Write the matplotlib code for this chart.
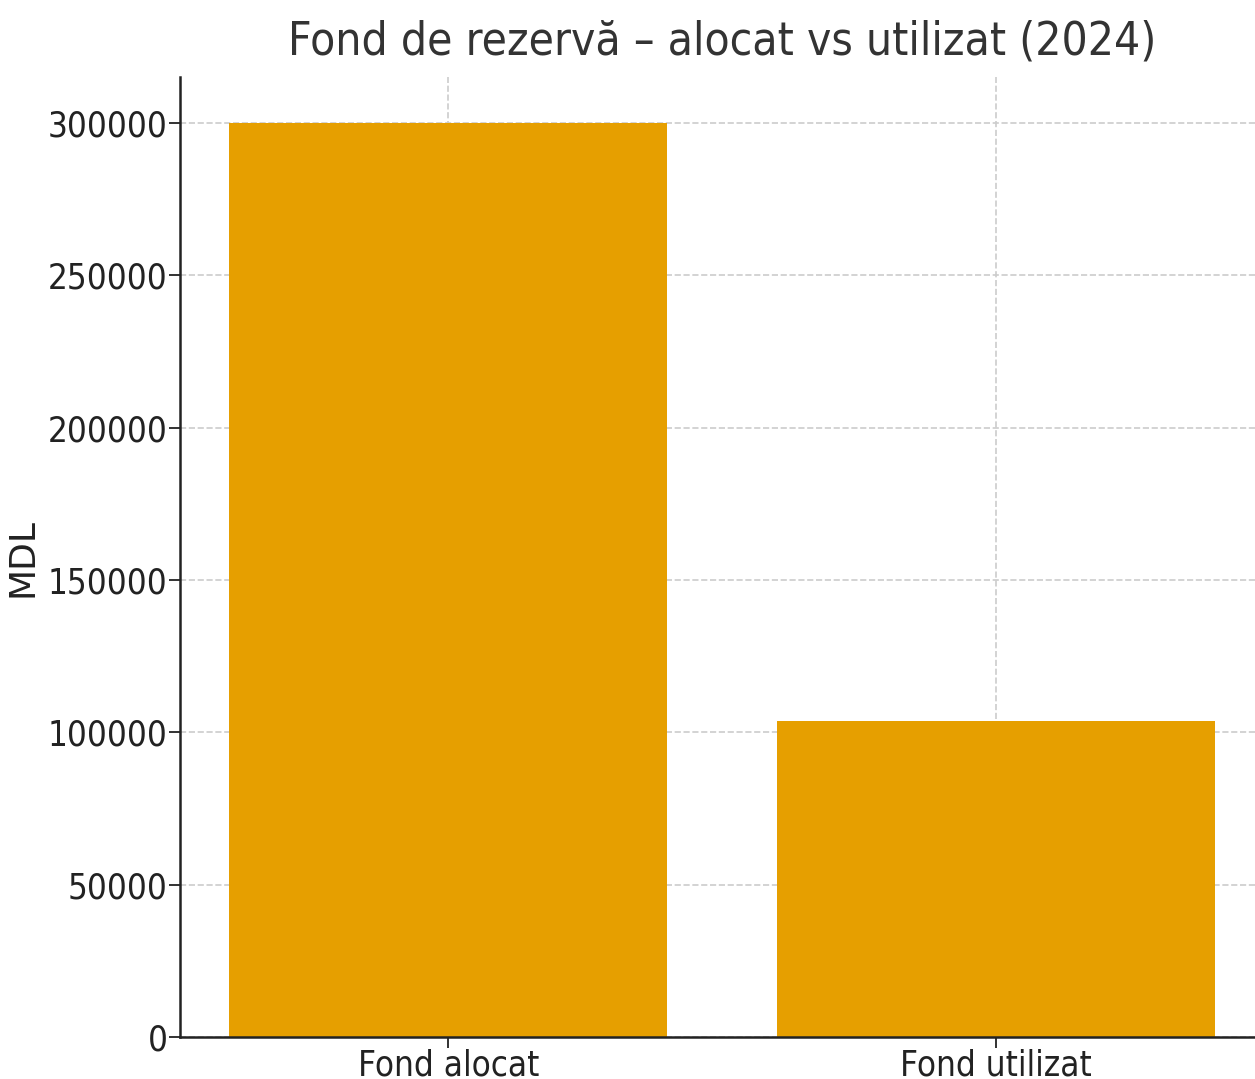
import matplotlib
matplotlib.use("Agg")
import matplotlib.pyplot as plt

categories = ["Fond alocat", "Fond utilizat"]
values = [300000, 103800]
bar_color = "#E69F00"

plt.rcParams["font.family"] = ["DejaVu Sans"]

fig = plt.figure(figsize=(12.55, 10.79), dpi=100)
ax = fig.add_axes([0.1434, 0.0389, 0.8637, 0.8897])

ax.bar(categories, values, width=0.8, color=bar_color, zorder=2)

ax.set_title("Fond de rezervă – alocat vs utilizat (2024)", fontsize=33,
             fontstretch="condensed", color="#333333", pad=16)
ax.set_ylabel("MDL", fontsize=26, color="#222222", labelpad=6)

ax.grid(True, linestyle="--", color="#cccccc", linewidth=1.2)
for line in ax.get_xgridlines() + ax.get_ygridlines():
    line.set_zorder(3)

ax.spines["top"].set_visible(False)
ax.spines["right"].set_visible(False)
for side in ("left", "bottom"):
    ax.spines[side].set_linewidth(1.8)
    ax.spines[side].set_color("#222222")
    ax.spines[side].set_zorder(4)
ax.tick_params(axis="both", length=8, width=1.3, labelsize=25, colors="#222222")
ax.tick_params(axis="y", pad=1)
ax.tick_params(axis="x", pad=0)
for lab in ax.get_xticklabels() + ax.get_yticklabels():
    lab.set_fontstretch("condensed")

fig.savefig("out.png", dpi=100)
